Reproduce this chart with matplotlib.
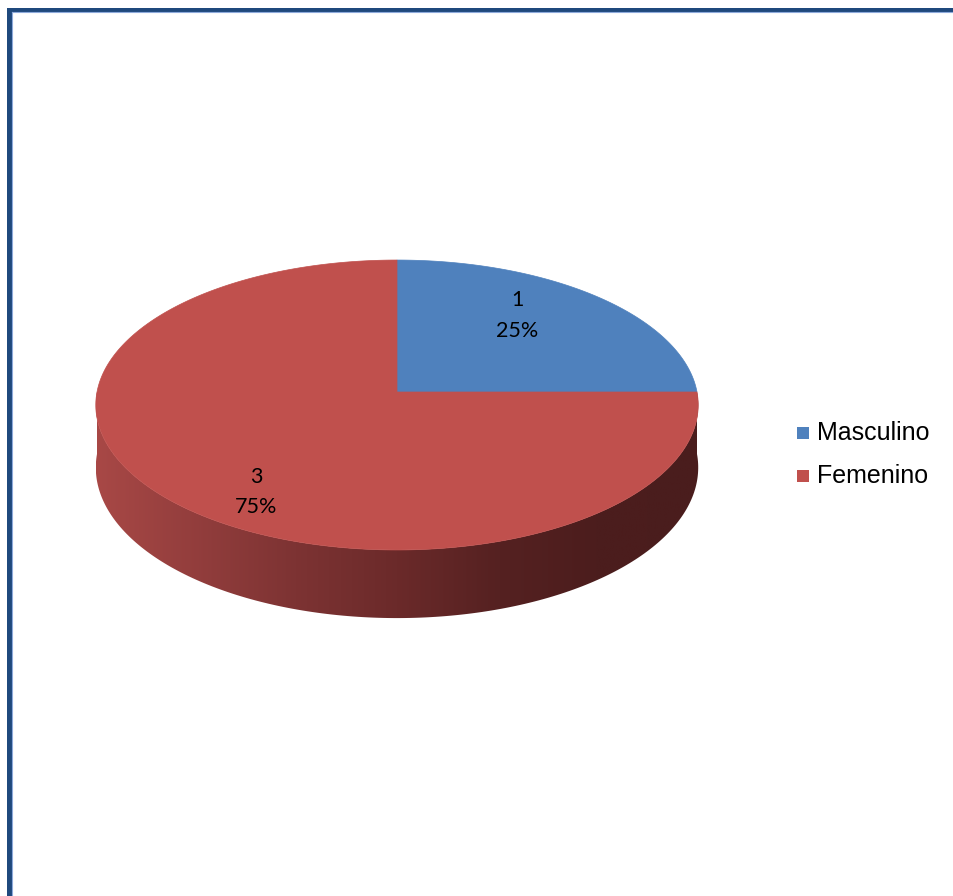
import numpy as np
import matplotlib
matplotlib.use("Agg")
import matplotlib.pyplot as plt
from matplotlib.patches import Polygon, Rectangle
from matplotlib.colors import LinearSegmentedColormap

categorias = ["Masculino", "Femenino"]
valores = [1, 3]
colores = ["#4F81BD", "#C0504D"]

# geometria de la torta en perspectiva (pixeles)
CX, CY = 397, 392
A, B, K = 300, 143.8, 0.0897
PROF = 62
ETIQ = [(53, 0.70), (236, 0.79)]  # angulo, radio de cada etiqueta


def proyectar(theta, r=1.0, z=0.0):
    u = r * np.cos(theta)
    v = r * np.sin(theta)
    d = 1 + K * v
    return CX + A * u / d, CY - B * v / d + z * PROF / d


fig = plt.figure(figsize=(9.54, 8.96), dpi=100)
ax = fig.add_axes([0, 0, 1, 1])
ax.set_xlim(0, 954)
ax.set_ylim(896, 0)
ax.axis("off")

# pared lateral con degradado
t = np.linspace(np.pi, 2 * np.pi, 200)
xs_top, ys_top = proyectar(t)
xs_bot, ys_bot = proyectar(t[::-1], z=1)
lado = Polygon(np.column_stack([np.r_[xs_top, xs_bot], np.r_[ys_top, ys_bot]]),
               closed=True, facecolor="none", edgecolor="none")
ax.add_patch(lado)
cmap = LinearSegmentedColormap.from_list("lado", [
    (0.0, "#A84846"), (0.33, "#7D3333"), (0.5, "#6B2A2A"),
    (0.67, "#552121"), (0.83, "#4C1D1D"), (1.0, "#4A1D1D")])
grad = np.linspace(0, 1, 256).reshape(1, -1)
img = ax.imshow(grad, cmap=cmap, aspect="auto",
                extent=[xs_top.min(), xs_top.max(), ys_bot.max() + 2, ys_top.min() - 2])
img.set_clip_path(lado)

# cara superior
total = sum(valores)
inicio = np.pi / 2
for val, col in zip(valores, colores):
    barrido = 2 * np.pi * val / total
    tt = np.linspace(inicio, inicio - barrido, 300)
    px, py = proyectar(tt)
    cx0, cy0 = proyectar(0, r=0)
    ax.add_patch(Polygon(np.column_stack([np.r_[cx0, px], np.r_[cy0, py]]),
                         closed=True, facecolor=col, edgecolor=col, lw=0.5))
    inicio -= barrido

# etiquetas de datos
for val, (ang, r) in zip(valores, ETIQ):
    lx, ly = proyectar(np.deg2rad(ang), r=r)
    ax.text(lx, ly, f"{val}\n{val / total:.0%}", ha="center", va="center",
            fontsize=15.5, family="Lato", linespacing=1.68, color="black")

# leyenda
for i, (cat, col) in enumerate(zip(categorias, colores)):
    y = 433 + i * 43
    ax.add_patch(Rectangle((797, y - 6), 12, 12, facecolor=col, edgecolor="none"))
    ax.text(817, y, cat, ha="left", va="center", fontsize=18,
            family="Liberation Sans", color="black")

# marco
ax.add_patch(Rectangle((7, 8), 960, 4, facecolor="#1F497D", edgecolor="none"))
ax.add_patch(Rectangle((7, 8), 5, 900, facecolor="#1F497D", edgecolor="none"))
ax.plot([12.5, 960], [12, 12], color="#8EAADB", lw=0.8)
ax.plot([12.5, 12.5], [12, 900], color="#8EAADB", lw=0.8)

fig.savefig("out.png", dpi=100)
